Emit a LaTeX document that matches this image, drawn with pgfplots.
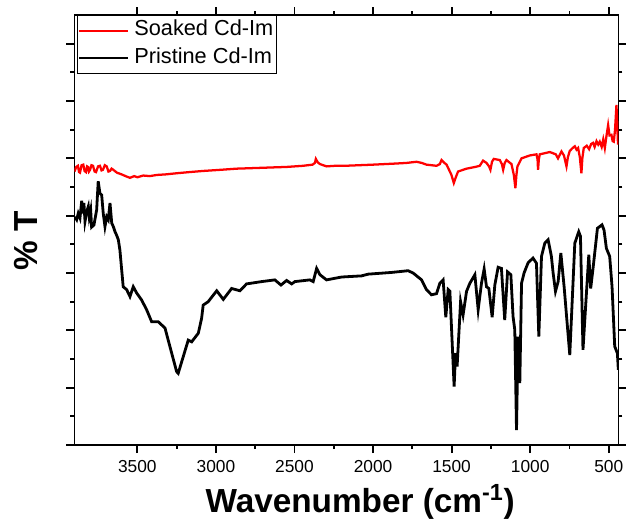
\documentclass[border=0pt]{standalone}
\usepackage{pgfplots}
\pgfplotsset{compat=1.18}
\usepackage{fontspec}
\setmainfont{Liberation Sans}
\begin{document}
\begin{tikzpicture}
\useasboundingbox (-55.875pt,-55.5pt) rectangle (413.625pt,333.75pt);
\begin{axis}[
  at={(0pt,0pt)}, anchor=south west,
  scale only axis, width=408pt, height=322.5pt,
  x dir=reverse, xmin=438, xmax=3900, ymin=0, ymax=7.5,
  xtick={500,1000,...,3500}, minor x tick num=1,
  ytick={0,1,...,7}, minor y tick num=1, yticklabels={},
  tick align=outside, major tick length=6pt, minor tick length=3pt,
  axis line style={line width=1.4pt},
  every tick/.style={line width=1.4pt, black},
  /pgf/number format/assume math mode=true,
  /pgf/number format/1000 sep={},
  ticklabel style={font=\fontsize{13}{15}\selectfont},
  xticklabel style={yshift=-2pt},
  xlabel={\fontsize{25}{30}\selectfont\bfseries Wavenumber (cm\textsuperscript{-1})},
  xlabel style={at={(axis description cs:0.525,-0.158)}, anchor=base},
  ylabel={\fontsize{25}{30}\selectfont\bfseries \% T},
  ylabel style={at={(axis description cs:-0.089,0.474)}, anchor=center, rotate=0},
  legend style={at={(axis description cs:0.004,1)}, anchor=north west, draw=black, line width=0.75pt, fill=white,
    font=\fontsize{16.3}{18}\selectfont, inner xsep=1pt, inner ysep=1pt, column sep=2.5pt,
    nodes={inner xsep=1.5pt, inner ysep=2.35pt, text height=12pt, text depth=4pt}},
  legend cell align=left,
  legend image code/.code={\draw[#1, line width=1.4pt] (0pt,0pt) -- (36.5pt,0pt);},
]
\addplot[red, line width=1.7pt] coordinates {
(3900,4.77) (3889,4.85) (3878,4.87) (3871,4.76) (3865,4.75) (3855,4.88) (3844,4.89) (3836,4.78) (3827,4.76)
(3820,4.86) (3814,4.85) (3808,4.77) (3801,4.80) (3792,4.88) (3782,4.87) (3772,4.77) (3763,4.76)
(3750,4.86) (3738,4.87) (3728,4.79) (3719,4.80) (3707,4.88) (3695,4.86) (3684,4.77) (3674,4.78)
(3664,4.82) (3653,4.80) (3630,4.75) (3600,4.72) (3575,4.69) (3547,4.66) (3520,4.69) (3500,4.67)
(3462,4.70) (3420,4.69) (3377,4.71) (3320,4.72) (3250,4.74) (3170,4.76) (3081,4.78) (2970,4.80)
(2868,4.82) (2760,4.83) (2656,4.84) (2550,4.85) (2445,4.87) (2385,4.89) (2370,4.92) (2364,4.99)
(2352,4.93) (2338,4.90) (2296,4.86) (2240,4.87) (2179,4.87) (1999,4.89) (1850,4.91) (1787,4.92)
(1723,4.94) (1690,4.92) (1660,4.89) (1596,4.87) (1575,4.90) (1564,4.97) (1550,4.93) (1532,4.89)
(1501,4.71) (1486,4.57) (1472,4.68) (1459,4.77) (1405,4.82) (1350,4.85) (1321,4.87) (1300,4.96)
(1278,4.92) (1262,4.86) (1253,4.80) (1243,4.94) (1232,4.99) (1193,4.97) (1180,4.90) (1172,4.80)
(1162,4.92) (1151,4.97) (1119,4.90) (1104,4.71) (1094,4.48) (1088,4.70) (1081,4.86) (1055,5.00)
(1003,5.05) (960,5.07) (953,4.98) (950,4.80) (945,4.98) (939,5.07) (875,5.11) (837,5.07)
(823,5.00) (801,5.12) (785,5.05) (769,4.86) (760,5.02) (748,5.13) (730,5.18) (716,5.21) (705,5.15)
(695,5.18) (684,5.02) (674,4.74) (668,5.00) (659,5.18) (640,5.22) (625,5.16) (612,5.25) (600,5.27)
(590,5.20) (578,5.30) (567,5.24) (557,5.29) (545,5.20) (535,5.33) (525,5.18) (515,5.38) (504,5.58)
(495,5.40) (483,5.41) (475,5.30) (468,5.29) (460,5.50) (451,5.93) (446,5.60) (441,5.24)
};
\addlegendentry{Soaked Cd-Im}
\addplot[black, line width=2.1pt] coordinates {
(3897,3.98) (3886,3.93) (3876,4.04) (3865,3.96) (3854,4.26) (3848,4.04) (3840,4.22) (3833,3.90)
(3822,4.07) (3812,4.16) (3806,3.98) (3797,4.10) (3791,3.80) (3776,3.84) (3759,4.10) (3749,4.60)
(3738,4.39) (3727,4.36) (3717,4.04) (3706,3.81) (3695,3.98) (3685,3.93) (3674,4.22) (3663,3.87)
(3653,3.81) (3642,3.72) (3632,3.66) (3621,3.58) (3611,3.40) (3590,2.76) (3568,2.71) (3547,2.59)
(3526,2.76) (3504,2.65) (3473,2.53) (3441,2.36) (3409,2.15) (3367,2.15) (3324,2.04) (3293,1.72)
(3250,1.28) (3240,1.25) (3176,1.83) (3154,1.80) (3112,1.95) (3091,2.21) (3081,2.44) (3049,2.50)
(2995,2.69) (2953,2.54) (2900,2.73) (2847,2.69) (2805,2.81) (2709,2.85) (2625,2.88) (2586,2.79)
(2550,2.87) (2518,2.81) (2497,2.85) (2402,2.88) (2381,2.85) (2359,3.08) (2338,2.97) (2296,2.88)
(2200,2.93) (2073,2.95) (2031,2.98) (1882,3.01) (1777,3.04) (1745,3.00) (1691,2.88) (1660,2.71)
(1628,2.62) (1596,2.64) (1575,2.82) (1554,2.88) (1537,2.23) (1522,2.71) (1511,2.68) (1484,1.02)
(1475,1.60) (1465,1.37) (1443,2.50) (1427,2.27) (1405,2.68) (1384,2.82) (1352,2.97) (1331,2.36)
(1310,2.82) (1293,3.07) (1278,2.76) (1263,2.73) (1242,2.23) (1225,2.79) (1204,3.10) (1183,3.08)
(1162,2.18) (1144,3.02) (1123,2.97) (1109,2.24) (1098,2.01) (1087,0.26) (1077,1.89) (1066,1.08)
(1055,2.82) (1039,3.00) (1013,3.18) (982,3.26) (960,3.17) (945,1.89) (928,3.29) (907,3.52)
(886,3.58) (865,3.29) (854,3.00) (839,2.68) (822,2.85) (805,3.35) (784,2.76) (748,1.57)
(716,3.52) (691,3.72) (680,3.64) (664,1.66) (627,3.32) (615,2.73) (600,3.08) (572,3.78)
(543,3.84) (530,3.75) (515,3.43) (494,3.29) (479,2.76) (462,1.72) (445,1.60) (439,1.31)
};
\addlegendentry{Pristine Cd-Im}
\end{axis}
\end{tikzpicture}
\end{document}
